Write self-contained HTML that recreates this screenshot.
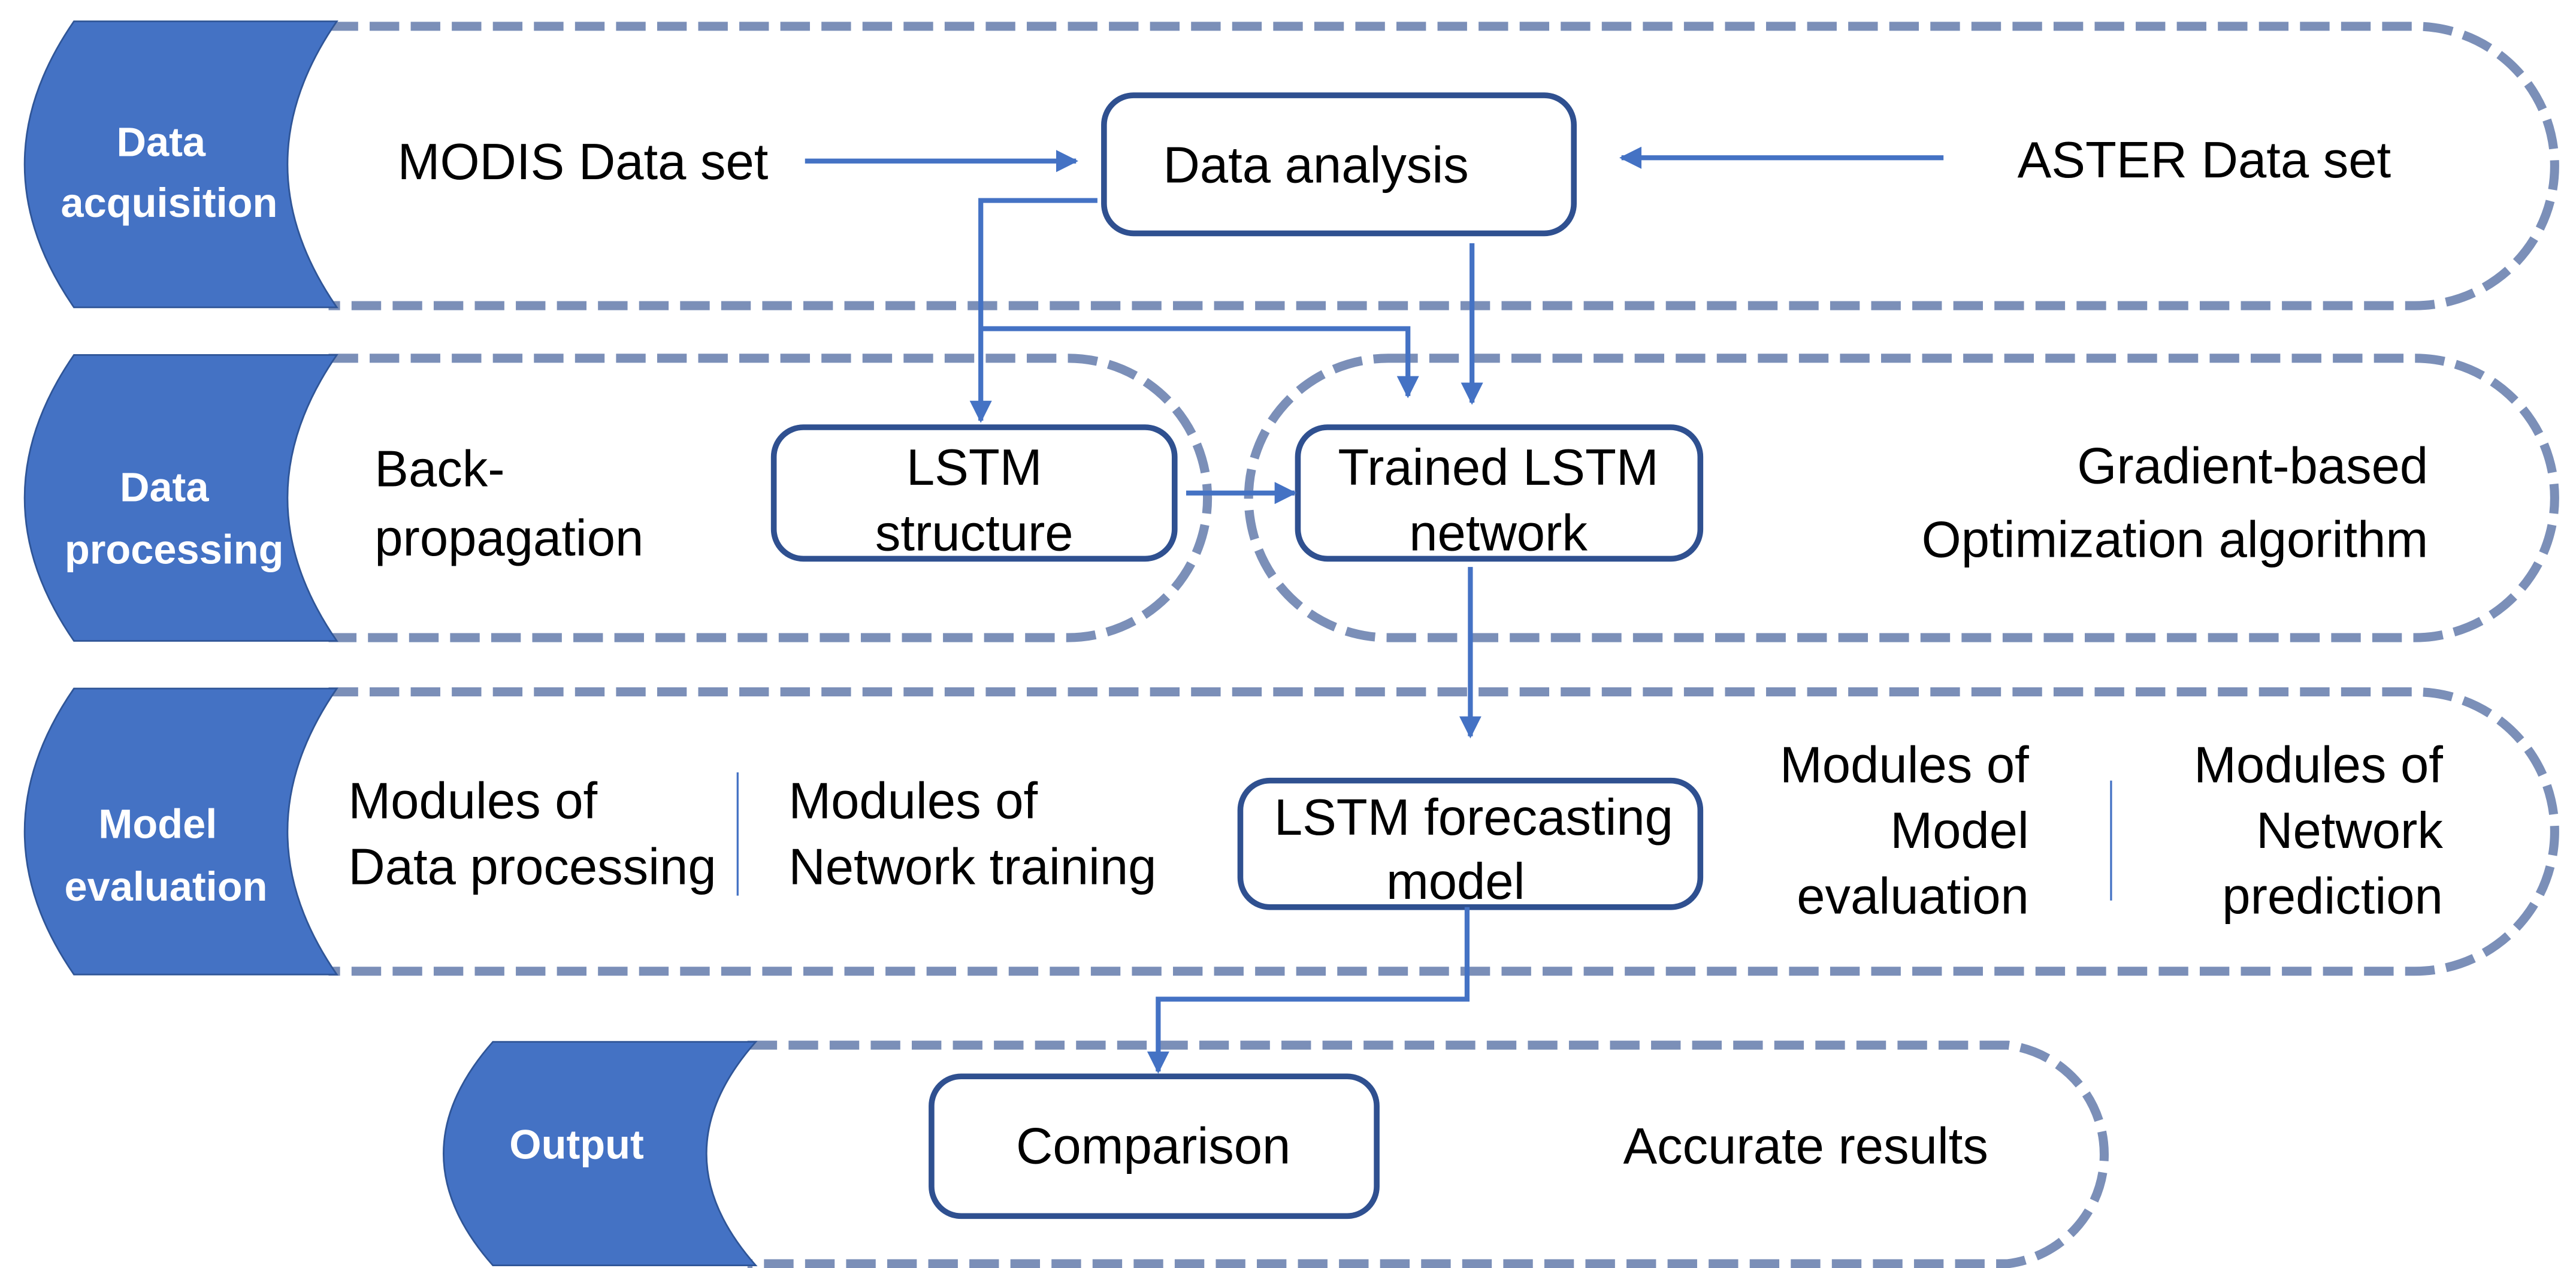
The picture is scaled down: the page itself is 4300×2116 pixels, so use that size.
<!DOCTYPE html>
<html><head><meta charset="utf-8"><style>
html,body{margin:0;padding:0;background:#fff;}
svg{display:block;}
text{font-family:"Liberation Sans",sans-serif;font-size:31px;fill:#000;}
.r{text-anchor:end;}
.c{text-anchor:middle;}
.w{fill:#fff;font-weight:bold;font-size:25px;text-anchor:middle;}
</style></head><body>
<svg width="4300" height="2116" viewBox="0 0 1568 771.6" xmlns="http://www.w3.org/2000/svg">
<defs>
<marker id="ah" viewBox="0 0 10 10" refX="9" refY="5" markerWidth="4.5" markerHeight="4.5" orient="auto" markerUnits="strokeWidth">
<path d="M0,0 L10,5 L0,10 Z" fill="#4472C4"/></marker>
</defs>
<g fill="none" stroke="#7B8FB8" stroke-width="5.5" stroke-dasharray="18 7">
<path d="M200,16 L1470,16 A85,85 0 0 1 1470,186 L200,186"/>
<path d="M200,218 L650,218 A85,85 0 0 1 650,388 L200,388"/>
<path d="M845,218 L1470,218 A85,85 0 0 1 1470,388 L845,388 A85,85 0 0 1 845,218 Z"/>
<path d="M200,421 L1470,421 A85,85 0 0 1 1470,591 L200,591"/>
<path d="M455,636 L1222,636 A67,67 0 0 1 1222,769 L455,769"/>
</g>
<g fill="#4472C4" stroke="#2F5597" stroke-width="1">
<path d="M45,13 L205,13 Q145,100 205,187 L45,187 Q-15,100 45,13 Z"/>
<path d="M45,216 L205,216 Q145,303 205,390 L45,390 Q-15,303 45,216 Z"/>
<path d="M45,419 L205,419 Q145,506 205,593 L45,593 Q-15,506 45,419 Z"/>
<path d="M300,634 L460,634 Q400,702 460,770 L300,770 Q240,702 300,634 Z"/>
</g>
<text class="w" x="98" y="95">Data</text>
<text class="w" x="103" y="132">acquisition</text>
<text class="w" x="100" y="305">Data</text>
<text class="w" x="106" y="343">processing</text>
<text class="w" x="96" y="510">Model</text>
<text class="w" x="101" y="548">evaluation</text>
<text class="w" x="351" y="705">Output</text>
<g fill="#fff" stroke="#2F5090" stroke-width="3.5">
<rect x="672" y="58" width="286" height="84" rx="18"/>
<rect x="471" y="260" width="244" height="80" rx="18"/>
<rect x="790" y="260" width="245" height="80" rx="18"/>
<rect x="755" y="475" width="280" height="77" rx="18"/>
<rect x="567" y="655" width="271" height="85" rx="18"/>
</g>
<g fill="none" stroke="#4472C4" stroke-width="3">
<path d="M490,98 L655,98" marker-end="url(#ah)"/>
<path d="M1183,96 L987,96" marker-end="url(#ah)"/>
<path d="M668,122 L597,122 L597,256" marker-end="url(#ah)"/>
<path d="M597,200 L857,200 L857,241" marker-end="url(#ah)"/>
<path d="M896,148 L896,245" marker-end="url(#ah)"/>
<path d="M722,300 L788,300" marker-end="url(#ah)"/>
<path d="M895,345 L895,448" marker-end="url(#ah)"/>
<path d="M893,552 L893,608 L705,608 L705,652" marker-end="url(#ah)"/>
</g>
<g stroke="#4472C4" stroke-width="1.2">
<line x1="449" y1="470" x2="449" y2="545"/>
<line x1="1285" y1="475" x2="1285" y2="548"/>
</g>
<text x="242" y="109">MODIS Data set</text>
<text class="c" x="801" y="111">Data analysis</text>
<text x="1228" y="108">ASTER Data set</text>
<text x="228" y="296">Back-</text>
<text x="228" y="338">propagation</text>
<text class="c" x="593" y="295">LSTM</text>
<text class="c" x="593" y="335">structure</text>
<text class="c" x="912" y="295">Trained LSTM</text>
<text class="c" x="912" y="335">network</text>
<text class="r" x="1478" y="294">Gradient-based</text>
<text class="r" x="1478" y="339">Optimization algorithm</text>
<text x="212" y="498">Modules of</text>
<text x="212" y="538">Data processing</text>
<text x="480" y="498">Modules of</text>
<text x="480" y="538">Network training</text>
<text class="c" x="897" y="508">LSTM forecasting</text>
<text class="c" x="886" y="547">model</text>
<text class="r" x="1235" y="476">Modules of</text>
<text class="r" x="1235" y="516">Model</text>
<text class="r" x="1235" y="556">evaluation</text>
<text class="r" x="1487" y="476">Modules of</text>
<text class="r" x="1487" y="516">Network</text>
<text class="r" x="1487" y="556">prediction</text>
<text class="c" x="702" y="708">Comparison</text>
<text x="988" y="708">Accurate results</text>
</svg>
</body></html>
